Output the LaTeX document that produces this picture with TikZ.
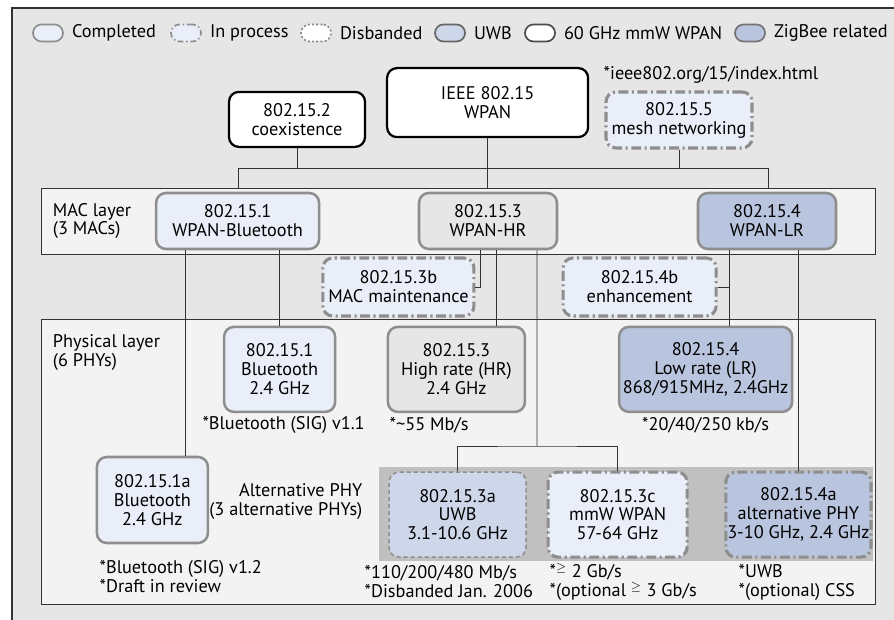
\documentclass[tikz,border=0pt]{standalone}
\usepackage{fontspec}
\setmainfont{PT Sans}
\usetikzlibrary{positioning}

\definecolor{outergray}{HTML}{E6E6E6}
\definecolor{layergray}{HTML}{F3F3F3}
\definecolor{bandgray}{HTML}{C0C0C0}
\definecolor{donefill}{HTML}{E9EEF8}
\definecolor{uwbfill}{HTML}{CED7E9}
\definecolor{zigfill}{HTML}{B9C5DE}
\definecolor{hrfill}{HTML}{E6E6E6}
\definecolor{rimgray}{HTML}{8E8E8E}
\definecolor{linegray}{HTML}{333333}

\begin{document}
\begin{tikzpicture}[
    font=\fontsize{13}{13.5}\selectfont,
    wg/.style={rounded corners=7pt, align=center, inner sep=1pt},
    topbox/.style={wg, draw=black, line width=1.6pt, fill=white},
    donebox/.style={wg, draw=rimgray, line width=1.8pt, fill=donefill},
    procbox/.style={wg, draw=rimgray, line width=2.2pt, dash pattern=on 7pt off 2.5pt on 1.5pt off 2.5pt, fill=donefill},
    gonebox/.style={wg, draw=rimgray, line width=1.1pt, dash pattern=on 3pt off 2pt},
    legendbox/.style={minimum width=0.75cm, minimum height=0.425cm, rounded corners=6pt, line width=1.2pt, inner sep=0pt},
    layer/.style={draw=linegray, line width=0.6pt, fill=layergray, inner sep=0pt},
    wire/.style={draw=linegray, line width=0.6pt},
    note/.style={align=left, inner sep=1pt},
]
                \useasboundingbox (0,0) rectangle (22.35,15.475);
                % Frame
                \fill[white] (0,0) rectangle (22.35,15.475);
                \draw[linegray, line width=0.8pt, fill=outergray] (0.3,-1) rectangle (23,15.275);

                % --- LEGEND ---
                \node[donebox, legendbox] (kdone) at (1.2,14.65) {};
                \node[right=0.08cm of kdone] (tdone) {Completed};
                \node[procbox, legendbox, dash pattern=on 4pt off 2pt on 1pt off 2pt] (kproc) at (4.65,14.65) {};
                \node[right=0.08cm of kproc] (tproc) {In process};
                \node[gonebox, fill=white, legendbox, dash pattern=on 1.5pt off 1.5pt] (kgone) at (7.9,14.65) {};
                \node[right=0.08cm of kgone] (tgone) {Disbanded};
                \node[donebox, fill=uwbfill, draw=black!60, legendbox] (kuwb) at (11.25,14.65) {};
                \node[right=0.08cm of kuwb] (tuwb) {UWB};
                \node[wg, draw=black!70, fill=white, legendbox] (kmmw) at (13.5,14.65) {};
                \node[right=0.08cm of kmmw] (tmmw) {60 GHz mmW WPAN};
                \node[donebox, fill=zigfill, draw=black!55, legendbox] (kzig) at (18.75,14.65) {};
                \node[right=0.08cm of kzig] (tzig) {ZigBee related};

                % --- LAYERS ---
                \node[layer, minimum width=20.85cm, minimum height=1.65cm] (mac) at (11.45,9.95) {};
                \node[layer, minimum width=20.85cm, minimum height=7.125cm] (phy) at (11.45,3.9375) {};
                \fill[bandgray] (9.475,1.45) rectangle (21.825,3.8);
                \node[note, anchor=west] (maclab) at (1.28,9.95) {MAC layer\\(3 MACs)};
                \node[note, anchor=north west] (phylab) at (1.28,7.15) {Physical layer\\(6 PHYs)};

                % --- TOP ---
                \node[topbox, minimum width=5.025cm, minimum height=1.725cm] (ieee) at (12.19,12.91) {IEEE 802.15\\WPAN};
                \node[topbox, minimum width=3.4cm, minimum height=1.375cm] (coex) at (7.425,12.49) {802.15.2\\coexistence};
                \node[note, anchor=west] (url) at (15.05,13.6) {*ieee802.org/15/index.html};
                \node[procbox, minimum width=3.65cm, minimum height=1.4cm] (mesh) at (16.975,12.475) {802.15.5\\mesh networking};

                % --- MAC ---
                \node[donebox, minimum width=4.075cm, minimum height=1.4cm] (wpanbt) at (5.94,9.95) {802.15.1\\WPAN-Bluetooth};
                \node[donebox, fill=hrfill, minimum width=3.45cm, minimum height=1.4cm] (wpanhr) at (12.2,9.95) {802.15.3\\WPAN-HR};
                \node[donebox, fill=zigfill, minimum width=3.45cm, minimum height=1.4cm] (wpanlr) at (19.175,9.95) {802.15.4\\WPAN-LR};
                \node[procbox, minimum width=3.775cm, minimum height=1.45cm] (hr3b) at (9.96,8.3) {802.15.3b\\MAC maintenance};
                \node[procbox, minimum width=3.825cm, minimum height=1.45cm] (lr4b) at (15.99,8.3) {802.15.4b\\enhancement};

                % --- PHY ---
                \node[donebox, minimum width=2.775cm, minimum height=2.125cm] (btphy) at (6.99,6.24) {802.15.1\\Bluetooth\\2.4 GHz};
                \node[donebox, fill=hrfill, minimum width=3.425cm, minimum height=2.125cm] (hrphy) at (11.41,6.24) {802.15.3\\High rate (HR)\\2.4 GHz};
                \node[donebox, fill=zigfill, minimum width=4.325cm, minimum height=2.125cm] (lrphy) at (17.64,6.24) {802.15.4\\Low rate (LR)\\868/915MHz, 2.4GHz};
                \node[note] (btnote) at (7.09,4.85) {*Bluetooth (SIG) v1.1};
                \node[note, anchor=west] (hrnote) at (9.7,4.85) {*\textasciitilde55 Mb/s};
                \node[note] (lrnote) at (17.64,4.85) {*20/40/250 kb/s};

                % --- ALTERNATIVE PHY ---
                \node[donebox, minimum width=2.775cm, minimum height=2.15cm] (bt1a) at (3.81,2.975) {802.15.1a\\Bluetooth\\2.4 GHz};
                \node[note, anchor=west] (bt1anote) at (2.45,1.05) {*Bluetooth (SIG) v1.2\\*Draft in review};
                \node[note, align=right, anchor=east] (altlab) at (9.1,2.925) {Alternative PHY\\(3 alternative PHYs)};
                \node[gonebox, fill=uwbfill, minimum width=3.425cm, minimum height=2.125cm] (uwb) at (11.44,2.61) {802.15.3a\\UWB\\3.1-10.6 GHz};
                \node[procbox, minimum width=3.475cm, minimum height=2.125cm] (mmw) at (15.44,2.61) {802.15.3c\\mmW WPAN\\57-64 GHz};
                \node[procbox, fill=zigfill, minimum width=3.575cm, minimum height=2.125cm] (lra) at (19.96,2.61) {802.15.4a\\alternative PHY\\3-10 GHz, 2.4 GHz};
                \node[note, anchor=west] (uwbnote) at (9.075,0.925) {*110/200/480 Mb/s\\*Disbanded Jan. 2006};
                \node[note, anchor=west] (mmwnote) at (13.7,0.925) {*$^{\geq}$ 2 Gb/s\\*(optional $^{\geq}$ 3 Gb/s};
                \node[note, anchor=west] (lranote) at (18.425,0.925) {*UWB\\*(optional) CSS};

                % --- WIRES ---
                % top tree
                \coordinate (jl) at (5.95,11.275);
                \coordinate (jr) at (19.2,11.275);
                \draw[wire] (jl) -- (jr);
                \draw[wire] (coex) -- (coex |- jl);
                \draw[wire] (mesh) -- (mesh |- jl);
                \draw[wire] (ieee) -- (ieee |- mac.north);
                \draw[wire] (jl) -- (jl |- mac.north);
                \draw[wire] (jr) -- (jr |- mac.north);

                % Bluetooth
                \coordinate (btdrop) at ([xshift=-1.3cm]wpanbt.south);
                \draw[wire] (btdrop) -- (btdrop |- bt1a.north);
                \draw[wire] (btphy) -- (btphy |- wpanbt.south);

                % HR
                \coordinate (hrdropa) at ([xshift=-0.2cm]wpanhr.south);
                \coordinate (hrdropb) at ([xshift=0.2cm]wpanhr.south);
                \coordinate (hrdropc) at ([xshift=1.225cm]wpanhr.south);
                \coordinate (altj) at (13.425,4.325);
                \draw[wire] (hrdropa) |- (hr3b.east);
                \draw[wire] (hrdropb) -- (hrdropb |- hrphy.north);
                \draw[wire] (hrdropc) -- (altj);
                \draw[wire] (uwb.north) |- (altj) -| (mmw.north);

                % LR
                \coordinate (lrdrop) at ([xshift=-0.95cm]wpanlr.south);
                \draw[wire] (lrdrop) -- (lrdrop |- lrphy.north);
                \draw[wire] (lr4b.east) -- (lr4b.east -| lrdrop);
                \draw[wire] (lra) -- (lra |- wpanlr.south);
\end{tikzpicture}
\end{document}
